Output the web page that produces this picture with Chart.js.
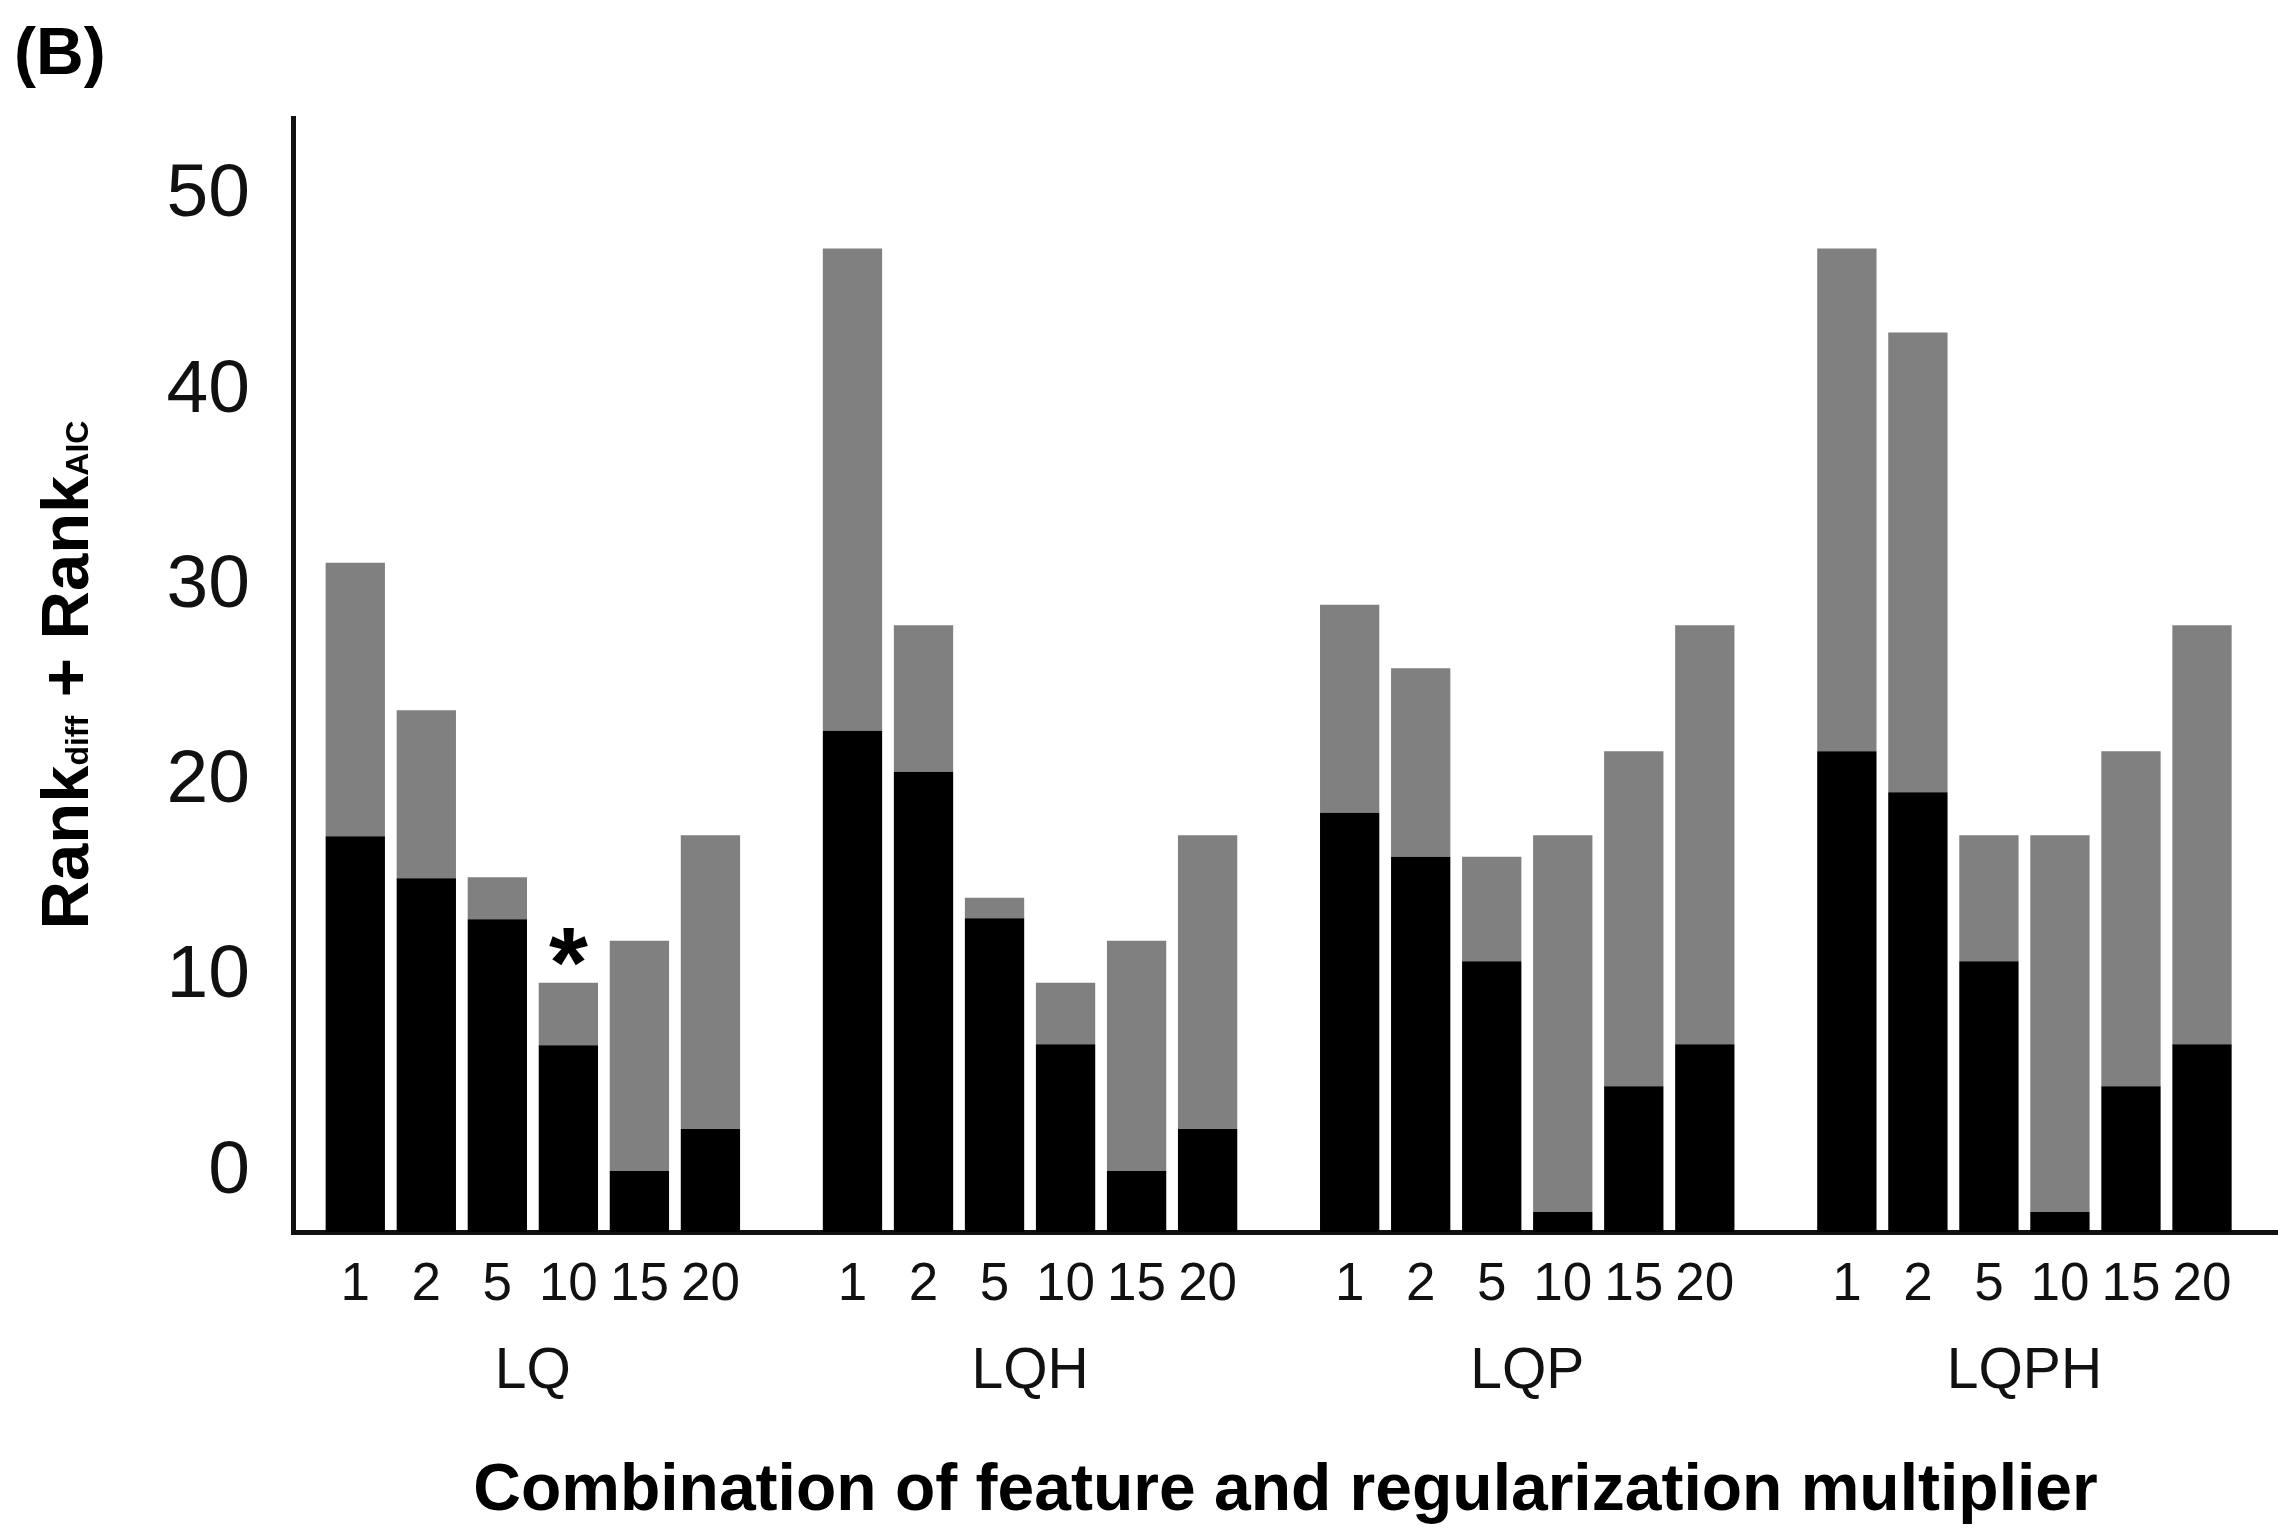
<!DOCTYPE html>
<html lang="en">
<head>
  <meta charset="UTF-8" />
  <title>Rank diff + Rank AIC by feature class and regularization multiplier</title>
  <script src="https://cdn.jsdelivr.net/npm/chart.js"></script>
  <style>
    body { margin: 0; background: #fff; }
    canvas { display: block; }
  </style>
</head>
<body>
  <canvas id="rankChart" width="2278" height="1531"></canvas>

  <script>
    // Feature classes (groups) and regularization multipliers (bars in each group)
    const features = ['LQ', 'LQH', 'LQP', 'LQPH'];
    const multipliers = ['1', '2', '5', '10', '15', '20'];

    // Top of the black segment (Rank_diff), group by group
    const rankDiff = [
      17.2, 15.05, 12.95, 6.5, 0.05, 2.2,     // LQ
      22.6, 20.5, 13.0, 6.55, 0.05, 2.2,      // LQH
      18.4, 16.15, 10.8, -2.05, 4.4, 6.55,    // LQP
      21.55, 19.45, 10.8, -2.05, 4.4, 6.55    // LQPH
    ];

    // Top of the grey segment (Rank_diff + Rank_AIC)
    const rankSum = [
      31.2, 23.65, 15.1, 9.7, 11.85, 17.25,   // LQ
      47.3, 28.0, 14.05, 9.7, 11.85, 17.25,   // LQH
      29.05, 25.8, 16.15, 17.25, 21.55, 28.0, // LQP
      47.3, 43.0, 17.25, 17.25, 21.55, 28.0   // LQPH
    ];

    const yTicks = [0, 10, 20, 30, 40, 50];

    // Model marked with an asterisk
    const bestModel = { feature: 'LQ', multiplier: '10' };

    const FONT = '"Liberation Sans", Arial, Helvetica, sans-serif';
    const Y_MIN = -3.07;   // axis line sits a little below the 0 label
    const Y_MAX = 53.98;
    const X_MIN = -0.877;
    const X_MAX = 27.07;

    // one empty slot between feature groups
    const step = multipliers.length + 1;
    const barPos = [];
    const barLabel = {};
    const blackBars = [];
    const greyBars = [];
    features.forEach((f, g) => {
      multipliers.forEach((m, k) => {
        const i = g * multipliers.length + k;
        const x = g * step + k;
        barPos.push(x);
        barLabel[x] = m;
        blackBars.push({ x: x, y: [Y_MIN, rankDiff[i]] });
        greyBars.push({ x: x, y: [rankDiff[i], rankSum[i]] });
      });
    });
    const groupPos = features.map((f, g) => g * step + (multipliers.length - 1) / 2);
    const groupLabel = {};
    features.forEach((f, g) => { groupLabel[groupPos[g]] = f; });
    const starIndex = features.indexOf(bestModel.feature) * multipliers.length +
      multipliers.indexOf(bestModel.multiplier);

    // Y title with subscripts, panel letter and asterisk
    const extras = {
      id: 'extras',
      afterDraw(chart) {
        const ctx = chart.ctx;
        const area = chart.chartArea;
        ctx.save();
        ctx.fillStyle = '#000';
        ctx.textBaseline = 'alphabetic';

        ctx.font = 'bold 66px ' + FONT;
        ctx.textAlign = 'left';
        ctx.fillText('(B)', 14, 74);

        const parts = [['Rank', 67], ['diff', 32], [' + ', 67], ['Rank', 67], ['AIC', 32]];
        let total = 0;
        parts.forEach(p => {
          ctx.font = 'bold ' + p[1] + 'px ' + FONT;
          total += ctx.measureText(p[0]).width;
        });
        ctx.save();
        ctx.translate(88, (area.top + area.bottom) / 2);
        ctx.rotate(-Math.PI / 2);
        let x = -total / 2;
        parts.forEach(p => {
          ctx.font = 'bold ' + p[1] + 'px ' + FONT;
          ctx.fillText(p[0], x, 0);
          x += ctx.measureText(p[0]).width;
        });
        ctx.restore();

        const bar = chart.getDatasetMeta(1).data[starIndex];
        ctx.font = 'bold 100px ' + FONT;
        ctx.textAlign = 'center';
        ctx.fillText('*', bar.x, bar.y + 14);
        ctx.restore();
      }
    };

    const ctx = document.getElementById('rankChart').getContext('2d');
    new Chart(ctx, {
      type: 'bar',
      data: {
        datasets: [
          { label: 'Rank diff', data: blackBars, backgroundColor: '#000000' },
          { label: 'Rank AIC', data: greyBars, backgroundColor: '#808080' }
        ]
      },
      options: {
        responsive: false,
        animation: false,
        devicePixelRatio: 1,
        layout: { padding: { top: 118, left: 0, right: 0, bottom: 0 } },
        datasets: {
          bar: { grouped: false, barPercentage: 0.835, categoryPercentage: 1, borderWidth: 0 }
        },
        plugins: { legend: { display: false }, tooltip: { enabled: false } },
        scales: {
          x: {
            type: 'linear',
            position: 'bottom',
            offset: false,
            min: X_MIN,
            max: X_MAX,
            weight: 0,
            z: 1,
            grid: { display: false, drawTicks: false, offset: false },
            border: { display: true, color: '#111', width: 5 },
            afterBuildTicks: s => { s.ticks = barPos.map(v => ({ value: v })); },
            ticks: {
              autoSkip: false,
              maxRotation: 0,
              padding: 27,
              color: '#111',
              font: { family: FONT, size: 53, lineHeight: 1 },
              callback: v => barLabel[v]
            },
            afterFit: s => { s.height = 108; }
          },
          groups: {
            type: 'linear',
            position: 'bottom',
            offset: false,
            min: X_MIN,
            max: X_MAX,
            weight: 1,
            grid: { display: false, drawTicks: false, offset: false },
            border: { display: false },
            afterBuildTicks: s => { s.ticks = groupPos.map(v => ({ value: v })); },
            ticks: {
              autoSkip: false,
              maxRotation: 0,
              padding: 4,
              color: '#111',
              font: { family: FONT, size: 57, lineHeight: 1 },
              callback: v => groupLabel[v]
            },
            title: {
              display: true,
              text: 'Combination of feature and regularization multiplier',
              color: '#000',
              font: { family: FONT, size: 66, weight: 'bold', lineHeight: 1 },
              padding: { top: 0, bottom: 6 }
            },
            afterFit: s => { s.height = 191; }
          },
          y: {
            type: 'linear',
            min: Y_MIN,
            max: Y_MAX,
            z: 1,
            grid: { display: false, drawTicks: false },
            border: { display: true, color: '#111', width: 5 },
            afterBuildTicks: s => { s.ticks = yTicks.map(v => ({ value: v })); },
            ticks: {
              padding: 43,
              color: '#111',
              font: { family: FONT, size: 75, lineHeight: 1 }
            },
            afterFit: s => { s.width = 293; }
          }
        }
      },
      plugins: [extras]
    });
  </script>
</body>
</html>
